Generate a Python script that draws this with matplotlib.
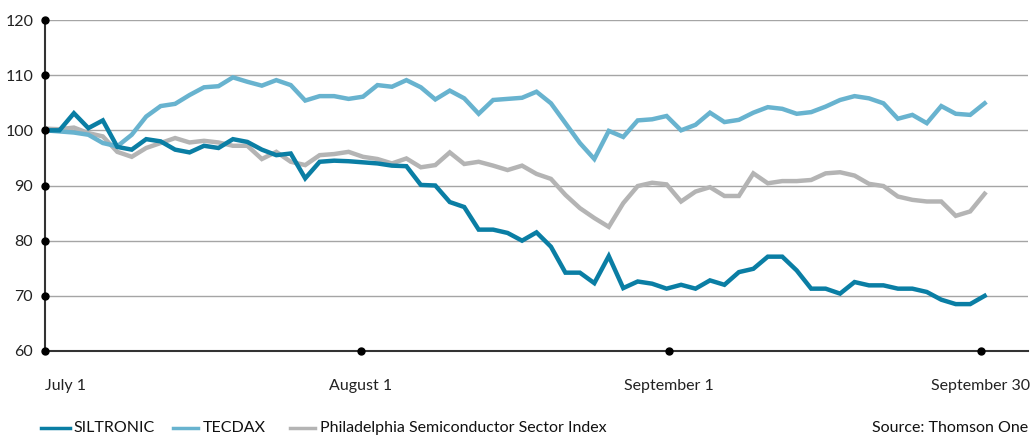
import matplotlib
matplotlib.use("Agg")
import matplotlib.pyplot as plt
from matplotlib.lines import Line2D
import numpy as np

plt.rcParams['font.family'] = ['Lato', 'DejaVu Sans']

siltronic = [100, 100, 103.1, 100.4, 101.8, 97.0, 96.5, 98.4, 98.0, 96.5,
             96.0, 97.2, 96.8, 98.4, 97.9, 96.5, 95.5, 95.8, 91.3, 94.3,
             94.5, 94.4, 94.2, 94.0, 93.6, 93.5, 90.1, 90.0, 87.0, 86.1,
             82.0, 82.0, 81.4, 80.0, 81.5, 78.9, 74.2, 74.2, 72.3, 77.2,
             71.4, 72.6, 72.2, 71.3, 72.0, 71.3, 72.8, 72.0, 74.3, 74.9,
             77.1, 77.1, 74.6, 71.3, 71.3, 70.4, 72.5, 71.9, 71.9, 71.3,
             71.3, 70.7, 69.3, 68.5, 68.5, 70.0]
tecdax = [100, 99.8, 99.6, 99.2, 97.7, 97.1, 99.2, 102.5, 104.4, 104.8,
          106.4, 107.8, 108.0, 109.6, 108.8, 108.1, 109.1, 108.2, 105.4, 106.2,
          106.2, 105.7, 106.1, 108.2, 107.9, 109.1, 107.8, 105.6, 107.2, 105.8,
          103.0, 105.5, 105.7, 105.9, 107.0, 104.9, 101.3, 97.7, 94.8, 99.9,
          98.8, 101.8, 102.0, 102.6, 100.0, 101.0, 103.2, 101.5, 101.9, 103.2,
          104.2, 103.9, 103.0, 103.3, 104.3, 105.5, 106.2, 105.8, 104.9, 102.1,
          102.8, 101.3, 104.4, 103.0, 102.8, 104.9]
sox = [100.3, 100.2, 100.5, 99.5, 98.9, 96.1, 95.2, 96.8, 97.7, 98.6,
       97.8, 98.1, 97.8, 97.2, 97.2, 94.8, 96.1, 94.3, 93.7, 95.5,
       95.7, 96.1, 95.2, 94.8, 94.0, 94.9, 93.3, 93.7, 96.0, 93.9,
       94.3, 93.6, 92.8, 93.6, 92.1, 91.2, 88.3, 85.9, 84.1, 82.5,
       86.8, 89.9, 90.5, 90.2, 87.1, 88.9, 89.7, 88.1, 88.1, 92.2,
       90.4, 90.8, 90.8, 91.0, 92.2, 92.4, 91.8, 90.3, 89.9, 88.0,
       87.4, 87.1, 87.1, 84.5, 85.3, 88.5]

series_names = ["SILTRONIC", "TECDAX", "Philadelphia Semiconductor Sector Index"]
colors = ["#0a7ea4", "#68b3cf", "#b4b4b4"]
y_ticks = [60, 70, 80, 90, 100, 110, 120]
x_tick_pos = [0, 21.85, 43.15, 64.73]
x_tick_labels = ["July 1", "August 1", "September 1", "September 30"]

W, H = 1030, 437
fig = plt.figure(figsize=(W/100, H/100), dpi=100)
ax = fig.add_axes([45/W, 1-351/H, (1028-45)/W, (351-20)/H])

x = np.arange(len(siltronic))
ax.plot(x, sox, color=colors[2], lw=3.2, solid_joinstyle='miter', zorder=3)
ax.plot(x, tecdax, color=colors[1], lw=3.2, solid_joinstyle='miter', zorder=4)
ax.plot(x, siltronic, color=colors[0], lw=3.2, solid_joinstyle='miter', zorder=5)

ax.set_xlim(0, 68.0)
ax.set_ylim(60, 120)
for yv in y_ticks[1:]:
    ax.axhline(yv, color="#a5a5a5", lw=1.0, zorder=1)
for s in ["top", "right"]:
    ax.spines[s].set_visible(False)
for s in ["left", "bottom"]:
    ax.spines[s].set_color("#333333")
    ax.spines[s].set_linewidth(1.5)
ax.set_yticks(y_ticks)
ax.set_yticklabels([str(v) for v in y_ticks])
ax.tick_params(axis='y', length=0, pad=8.5, labelsize=11.5, colors="#222222")
ax.set_xticks(x_tick_pos)
ax.set_xticklabels(x_tick_labels)
ax.tick_params(axis='x', length=0, pad=20, labelsize=11.5, colors="#222222")
lbls = ax.get_xticklabels()
lbls[0].set_ha('left')

# tick dots
ax.plot([0]*len(y_ticks), y_ticks, 'o', color='black', ms=5, clip_on=False, zorder=6)
ax.plot(x_tick_pos[1:], [60]*3, 'o', color='black', ms=5, clip_on=False, zorder=6)

# manual legend
leg_y = 1 - 428/H
leg_line_x = [(41, 70), (173, 198), (290, 315)]
leg_text_x = [73, 203, 320]
for (x0, x1), tx, c, name in zip(leg_line_x, leg_text_x, colors, series_names):
    fig.add_artist(Line2D([x0/W, x1/W], [leg_y, leg_y], color=c, lw=2.5,
                          transform=fig.transFigure))
    fig.text(tx/W, leg_y, name, ha='left', va='center', fontsize=11.5, color="#111111")
fig.text(1028/W, leg_y, "Source: Thomson One", ha='right', va='center', fontsize=11.5, color="#111111")

fig.savefig("out.png", dpi=100)
